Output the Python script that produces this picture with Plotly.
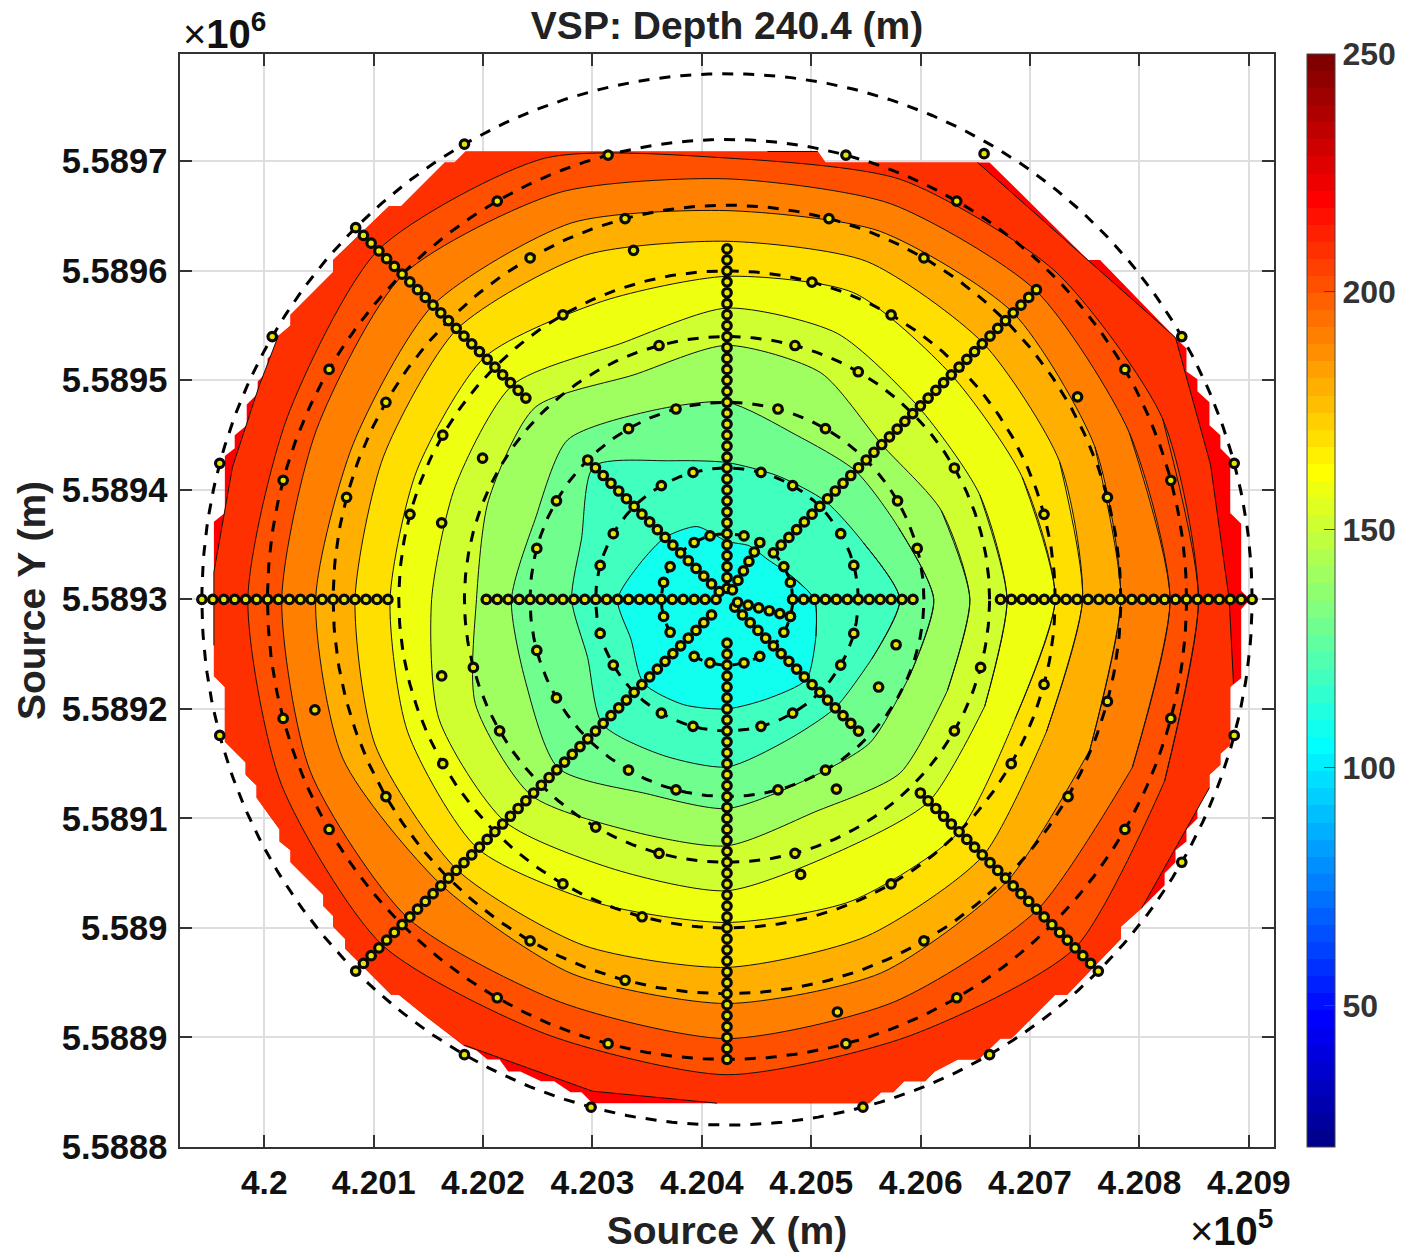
import numpy as np
import plotly.graph_objects as go

TITLE = "VSP: Depth 240.4 (m)"
X_TITLE = "Source X (m)"
Y_TITLE = "Source Y (m)"
X_TICKS = [420000, 420100, 420200, 420300, 420400, 420500, 420600, 420700, 420800, 420900]
X_LABELS = ["4.2", "4.201", "4.202", "4.203", "4.204", "4.205", "4.206", "4.207", "4.208", "4.209"]
Y_TICKS = [5588800, 5588900, 5589000, 5589100, 5589200, 5589300, 5589400, 5589500, 5589600, 5589700]
Y_LABELS = ["5.5888", "5.5889", "5.589", "5.5891", "5.5892", "5.5893", "5.5894", "5.5895", "5.5896", "5.5897"]
CENTER_X = 420423
CENTER_Y = 5589300
COLOR_MIN = 20.3
COLOR_MAX = 250
COLOR_TICKS = [50, 100, 150, 200, 250]

# Contour radius (m from the centre) at these bearings (deg, counter-clockwise from east)
BEARINGS = [0, 22.5, 45, 67.5, 90, 112.5, 135, 157.5, 180, 202.5, 225, 247.5, 270, 292.5, 315, 337.5]
CONTOUR_120 = [80, 61, 52, 53, 53, 72, 80, 86, 100, 95, 108, 104, 100, 98, 103, 88]
CONTOUR_130 = [158, 135, 127, 122, 125, 137, 172, 144, 142, 138, 161, 154, 153, 140, 140, 143]
CONTOUR_140 = [189, 170, 166, 163, 180, 186, 206, 190, 197, 199, 218, 192, 191, 180, 185, 181]
CONTOUR_150 = [222, 212, 200, 224, 232, 222, 248, 236, 229, 249, 253, 229, 225, 210, 224, 218]
CONTOUR_160 = [256, 250, 248, 263, 266, 253, 277, 269, 270, 285, 287, 267, 266, 252, 261, 255]
CONTOUR_170 = [300, 292, 290, 303, 295, 295, 313, 307, 308, 316, 322, 301, 295, 298, 300, 285]
CONTOUR_180 = [325, 329, 331, 334, 327, 340, 349, 340, 340, 348, 349, 342, 336, 333, 331, 316]
CONTOUR_190 = [360, 364, 370, 364, 355, 372, 380, 370, 376, 380, 369, 370, 369, 369, 363, 359]
CONTOUR_200 = [405, 398, 399, 391, 384, 402, 419, 406, 407, 412, 412, 398, 401, 398, 401, 401]
CONTOUR_210 = [431, 431, 424, 415, 403, 436, 451, 435, 438, 441, 446, 430, 434, 432, 450, 433]
INNER_CONTOURS = [(210, CONTOUR_210), (200, CONTOUR_200), (190, CONTOUR_190), (180, CONTOUR_180),
                  (170, CONTOUR_170), (160, CONTOUR_160), (150, CONTOUR_150), (140, CONTOUR_140),
                  (130, CONTOUR_130), (120, CONTOUR_120)]
BAND_BELOW = {210: 200, 200: 190, 190: 180, 180: 170, 170: 160, 160: 150, 150: 140, 140: 130, 130: 120, 120: 110}

# Edge of the gridded area, metres east / north of the centre
MASK_E = [-239, 83, 90, 240, 330, 341, 410, 420, 420, 430, 430, 441, 441, 451, 451, 460, 460, 470, 470, 478,
          470, 470, 460, 460, 451, 451, 441, 441, 430, 430, 420, 420, 410, 410, 400, 400, 378, 360, 360, 319,
          311, 300, 260, 250, 230, 211, 190, 181, 162, 152, 141, 130, -123, -133, -143, -158, -170, -189, -200, -208,
          -219, -229, -240, -275, -300, -307, -349, -349, -360, -360, -369, -369, -389, -399, -399, -409, -409, -430, -430, -440,
          -440, -459, -459, -469, -469, -459, -459, -450, -450, -439, -439, -429, -429, -420, -420, -409, -409, -399, -399, -360,
          -360, -309, -298, -258, -249]
MASK_N = [409, 409, 399, 399, 310, 310, 239, 229, 208, 201, 190, 180, 159, 150, 138, 129, 79, 69, 8, 0,
          -9, -72, -80, -133, -141, -151, -160, -172, -189, -200, -210, -221, -229, -240, -250, -261, -283, -299, -310, -352,
          -361, -361, -401, -401, -420, -420, -431, -440, -440, -450, -450, -460, -460, -450, -450, -440, -440, -431, -431, -420,
          -420, -412, -408, -381, -361, -361, -319, -310, -299, -289, -280, -270, -250, -240, -229, -221, -210, -181, -170, -160,
          -149, -130, -80, -70, 71, 79, 131, 138, 150, 159, 178, 188, 199, 208, 220, 231, 241, 250, 260, 299,
          310, 359, 359, 399, 399]

# The 220 contour where it lies inside the gridded area
C220_TOP_E, C220_TOP_N = [37, 83], [409, 409]
C220_NE_E, C220_NE_N = [229, 410, 442, 459, 463], [399, 239, 123, 0, -77]
C220_SE_E, C220_SE_N = [441, 379], [-172, -282]
C220_SW_E, C220_SW_N = [-9, -123, -240], [-460, -449, -407]
C220_W_E, C220_W_N = [-469, -469, -452, -428, -410], [-42, 25, 121, 194, 241]

RING_RADII = [60, 120, 180, 240, 300, 360, 420, 480]

# Source lines: bearing -> radii (m)
SPOKES = {
    180: [10, 20, 30, 40, 50, 60, 70, 80, 90, 100, 110, 120, 130, 140, 150, 160, 170, 180, 190, 200, 210, 220,
          310, 320, 330, 340, 350, 360, 370, 380, 390, 400, 410, 420, 430, 440, 450, 460, 470, 480],
    0: [60, 70, 80, 90, 100, 110, 120, 130, 140, 150, 160, 170,
        250, 260, 270, 280, 290, 300, 310, 320, 330, 340, 350, 360, 370, 380, 390, 400, 410, 420, 430, 440, 450, 460, 470, 480],
    90: [10, 20, 30, 40, 50, 60, 70, 80, 90, 100, 110, 120, 130, 140, 150, 160, 170, 180, 190, 200, 210, 220, 230, 240,
         250, 260, 270, 280, 290, 300, 310, 320],
    270: [40, 50, 60, 70, 80, 90, 100, 110, 120, 130, 140, 150, 160, 170, 180, 190, 200, 210, 220, 230, 240,
          250, 260, 270, 280, 290, 300, 310, 320, 330, 340, 350, 360, 370, 380, 390, 400, 410, 420],
    135: [10, 20, 30, 40, 50, 60, 70, 80, 90, 100, 110, 120, 130, 140, 150, 160, 170, 180,
          260, 270, 280, 290, 300, 310, 320, 330, 340, 350, 360, 370, 380, 390, 400, 410, 420, 430, 440, 450, 460, 470, 480],
    45: [60, 70, 80, 90, 100, 110, 120, 130, 140, 150, 160, 170, 180, 190, 200, 210, 220, 230, 240,
         250, 260, 270, 280, 290, 300, 310, 320, 330, 340, 350, 360, 370, 380, 390, 400],
    315: [10, 20, 30, 40, 50, 60, 70, 80, 90, 100, 110, 120, 130, 140, 150, 160, 170,
          250, 260, 270, 280, 290, 300, 310, 320, 330, 340, 350, 360, 370, 380, 390, 400, 410, 420, 430, 440, 450, 460, 470, 480],
    225: [20, 30, 40, 50, 60, 70, 80, 90, 100, 110, 120, 130, 140, 150, 160, 170, 180, 190, 200, 210, 220, 230, 240,
          250, 260, 270, 280, 290, 300, 310, 320, 330, 340, 350, 360, 370, 380, 390, 400, 410, 420, 430, 440, 450, 460, 470, 480],
    345: [10, 20, 30, 40, 50, 60],
    60: [10, 20, 30, 40, 50, 60],
}
# Ring sources: bearing -> radii (m)
RING_SOURCES = {
    15: [60, 120, 180, 300, 360, 420, 480],
    30: [60, 120, 180, 240, 370, 420, 480],
    60: [120, 180, 240, 300, 360, 420, 470],
    75: [60, 120, 180, 240, 300, 360, 420],
    105: [60, 120, 180, 240, 330, 360, 420],
    120: [60, 120, 180, 300, 360, 420, 480],
    150: [60, 120, 180, 258, 300, 360, 420, 480],
    165: [60, 120, 180, 270, 300, 360, 420, 480],
    195: [60, 120, 180, 240, 270, 390, 420, 480],
    210: [60, 120, 180, 240, 300, 360, 420],
    240: [60, 120, 180, 240, 300, 360, 420, 480],
    255: [60, 120, 180, 240, 300, 360, 420, 480],
    285: [60, 120, 180, 240, 260, 390, 420, 480],
    300: [60, 120, 180, 200, 300, 360, 420, 480],
    330: [60, 120, 160, 240, 300, 360, 420, 480],
    345: [60, 120, 160, 240, 300, 360, 420, 480],
}


def jet(i):
    """MATLAB jet(64), i in 1..64."""
    def part(c):
        return max(0.0, min(1.0, 1.5 - abs(4 * i / 64 - c)))
    r, g, b = part(3), part(2), part(1)
    return f"rgb({round(r*255)},{round(g*255)},{round(b*255)})"


def level_color(v):
    return jet(int(np.ceil((v - COLOR_MIN) / (COLOR_MAX - COLOR_MIN) * 64)))


colorscale = []
for i in range(1, 65):
    colorscale.append([(i - 1) / 64, jet(i)])
    colorscale.append([i / 64, jet(i)])


def from_polar(bearing, radius):
    t = np.deg2rad(np.asarray(bearing, dtype=float))
    r = np.asarray(radius, dtype=float)
    return CENTER_X + r * np.cos(t), CENTER_Y + r * np.sin(t)


def from_offset(east, north):
    return [CENTER_X + e for e in east], [CENTER_Y + n for n in north]


fig = go.Figure()


def band(x, y, color, line_width):
    fig.add_trace(go.Scatter(x=list(x) + [x[0]], y=list(y) + [y[0]], mode="lines", fill="toself", fillcolor=color,
                             line=dict(color="#111111", width=line_width), hoverinfo="skip", showlegend=False))


def smooth_band(x, y, color, line_width):
    # The path overlaps itself at the seam so that the spline has no cusp there
    xs = [x[-1]] + list(x) + [x[-1], x[0], x[1]]
    ys = [y[-1]] + list(y) + [y[-1], y[0], y[1]]
    fig.add_trace(go.Scatter(x=xs, y=ys, mode="lines", fill="toself", fillcolor=color,
                             line=dict(color="#111111", width=line_width, shape="spline", smoothing=0.7),
                             hoverinfo="skip", showlegend=False))


# Whole gridded area, coloured by the top band
mx, my = from_offset(MASK_E, MASK_N)
band(mx, my, level_color(220), 0)

# Band 210-220: the area inside the 220 contour and inside the grid edge
be = MASK_E[:3] + C220_NE_E + MASK_E[22:28] + C220_SE_E + MASK_E[36:52] + C220_SW_E + MASK_E[63:84] + C220_W_E + MASK_E[97:]
bn = MASK_N[:3] + C220_NE_N + MASK_N[22:28] + C220_SE_N + MASK_N[36:52] + C220_SW_N + MASK_N[63:84] + C220_W_N + MASK_N[97:]
bx, by = from_offset(be, bn)
band(bx, by, level_color(210), 0)
for seg_e, seg_n in [(C220_TOP_E, C220_TOP_N), (C220_NE_E, C220_NE_N), (C220_SE_E, C220_SE_N),
                     (C220_SW_E, C220_SW_N), (C220_W_E, C220_W_N)]:
    sx, sy = from_offset(seg_e, seg_n)
    fig.add_trace(go.Scatter(x=sx, y=sy, mode="lines", line=dict(color="#111111", width=1),
                             hoverinfo="skip", showlegend=False))

for level, radii in INNER_CONTOURS:
    cx, cy = from_polar(BEARINGS, radii)
    smooth_band(list(cx), list(cy), level_color(BAND_BELOW[level]), 1)

# Dashed rings
theta = np.arange(0, 361, 1.0)
for r in RING_RADII:
    rx, ry = from_polar(theta, np.full_like(theta, r))
    fig.add_trace(go.Scatter(x=rx, y=ry, mode="lines", line=dict(color="black", width=3, dash="11px,10px"),
                             hoverinfo="skip", showlegend=False))

# Source points
px, py = [], []
for bearing, radii in list(SPOKES.items()) + list(RING_SOURCES.items()):
    a, b = from_polar([bearing] * len(radii), radii)
    px.extend(a)
    py.extend(b)
fig.add_trace(go.Scatter(x=px, y=py, mode="markers", showlegend=False,
                         marker=dict(size=8.5, color="#e6e600", line=dict(color="#0a0a0a", width=3.2))))

# Colour bar carrier
fig.add_trace(go.Scatter(x=[None, None], y=[None, None], mode="markers", showlegend=False, hoverinfo="skip",
                         marker=dict(color=[COLOR_MIN, COLOR_MAX], cmin=COLOR_MIN, cmax=COLOR_MAX,
                                     colorscale=colorscale, showscale=True,
                                     colorbar=dict(x=(1307 - 180) / 1094, xanchor="left",
                                                   y=1, yanchor="top", thickness=28, thicknessmode="pixels",
                                                   len=1, lenmode="fraction", xpad=0, ypad=0,
                                                   outlinecolor="#444444", outlinewidth=1, ticks="inside", ticklen=11,
                                                   tickcolor="#444444", tickwidth=1, tickvals=COLOR_TICKS,
                                                   tickprefix="\u200a",
                                                   tickfont=dict(family="Liberation Sans", size=32, color="#333333", weight="bold")))))

x_font = dict(family="Liberation Sans", size=33.5, color="#111111", weight="bold")
y_font = dict(family="Liberation Sans", size=34.5, color="#111111", weight="bold")
title_font = dict(family="Liberation Sans", size=39, color="#222222", weight="bold")
common = dict(showline=True, linecolor="#333333", linewidth=1.5, mirror="ticks", ticks="inside", ticklen=12,
              tickwidth=1.5, tickcolor="#333333", showgrid=True, gridcolor="#dedede", gridwidth=1.5,
              zeroline=False, tickmode="array")

fig.update_layout(
    width=1407, height=1255, paper_bgcolor="white", plot_bgcolor="white",
    margin=dict(l=180, r=133, t=54, b=108, autoexpand=False), showlegend=False,
    title=dict(text=TITLE, font=title_font, x=727 / 1407, xanchor="center", y=1 - 25 / 1255, yanchor="middle"),
    xaxis=dict(range=[419923, 420923], tickvals=X_TICKS, ticktext=X_LABELS, tickfont=x_font, ticklabelstandoff=5,
               title=dict(text=X_TITLE, font=title_font, standoff=17), **common),
    yaxis=dict(range=[5588800, 5589798], tickvals=Y_TICKS, ticktext=Y_LABELS, tickfont=y_font, ticklabelstandoff=4,
               title=dict(text=Y_TITLE, font=title_font, standoff=4), **common),
    annotations=[
        dict(text="×<b>10<sup>6</sup></b>", xref="paper", yref="paper", x=0.001, y=1.021, xanchor="left", yanchor="middle",
             showarrow=False, font=dict(family="Liberation Sans", size=40, color="#111111")),
        dict(text="×<b>10<sup>5</sup></b>", xref="paper", yref="paper", x=1.001, y=-0.074, xanchor="right", yanchor="middle",
             showarrow=False, font=dict(family="Liberation Sans", size=40, color="#111111")),
    ],
)

fig.write_html("out.html", config=dict(displayModeBar=False),
               post_script="document.body.style.margin='0';document.documentElement.style.overflow='hidden';")
